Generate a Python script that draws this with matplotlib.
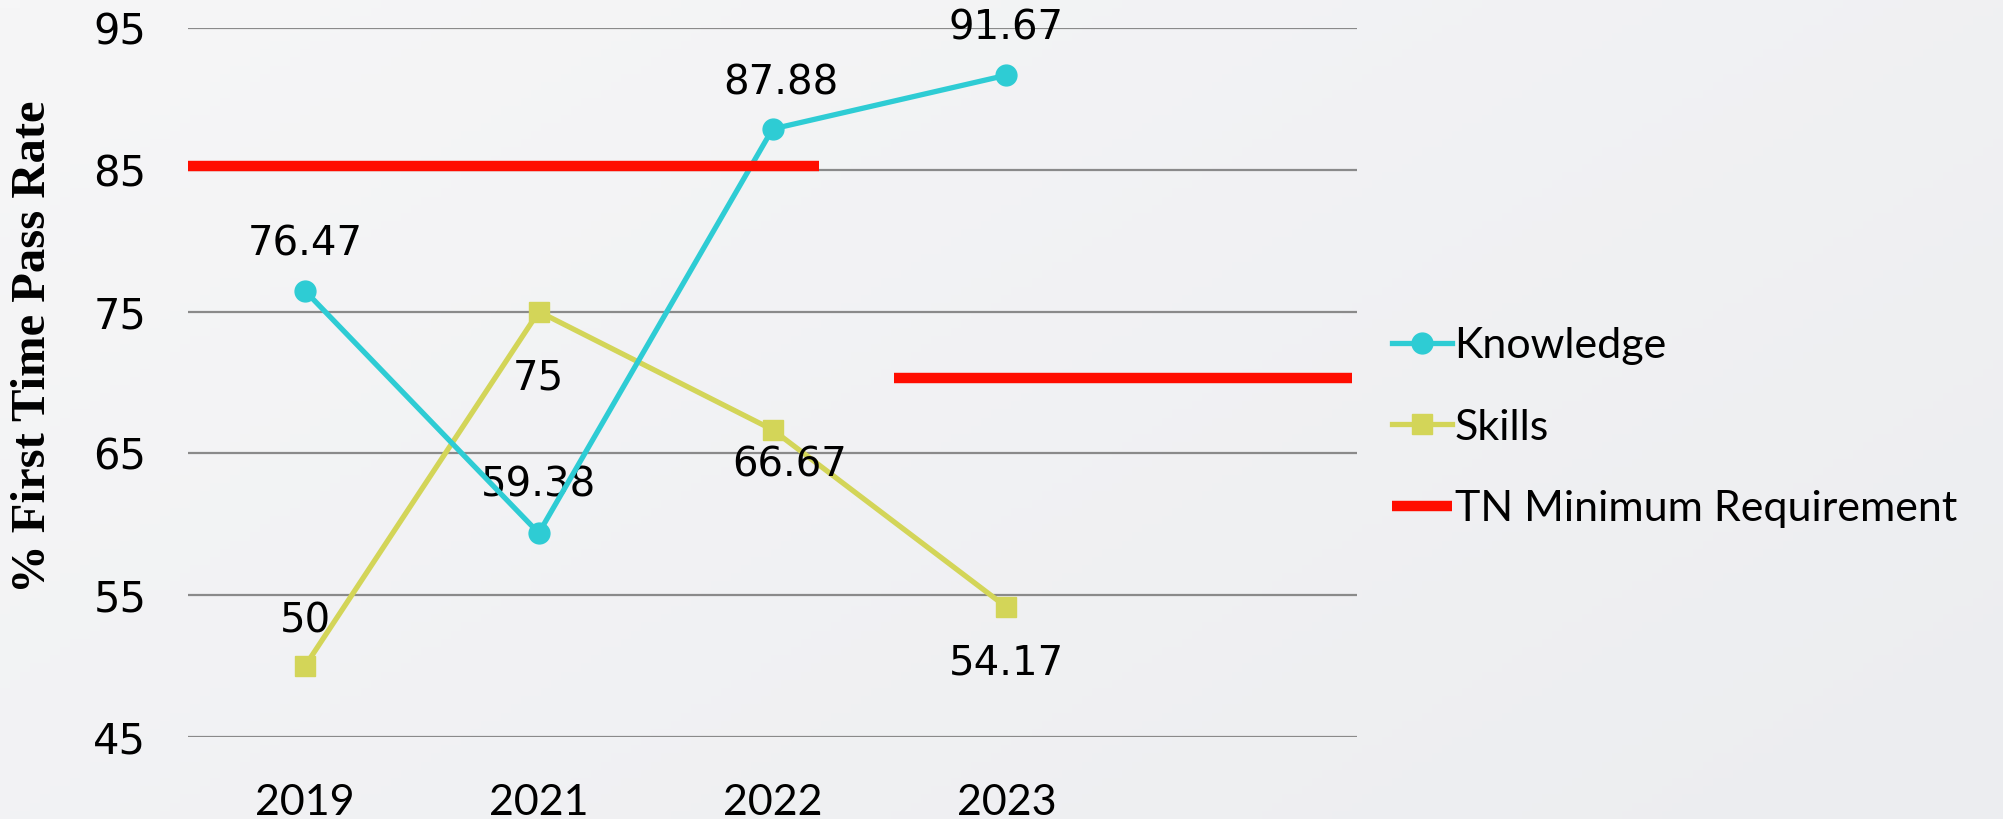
import numpy as np
import matplotlib
matplotlib.use("Agg")
import matplotlib.pyplot as plt
from matplotlib.lines import Line2D

# --------------------
# Data
# --------------------
years = ["2019", "2021", "2022", "2023", ""]
knowledge = [76.47, 59.38, 87.88, 91.67]
skills = [50, 75, 66.67, 54.17]
knowledge_labels = ["76.47", "59.38", "87.88", "91.67"]
skills_labels = ["50", "75", "66.67", "54.17"]

# TN minimum requirement bars (drawn as two separate segments in the original)
tn_min_values = [85.3, 70.3]
tn_min_spans = [(-0.5, 2.2), (2.52, 4.48)]

y_ticks = [45, 55, 65, 75, 85, 95]

# --------------------
# Styles
# --------------------
TEAL = "#2ECCD4"
OLIVE = "#D3D558"
RED = "#FF0D00"
GRID = "#8A8A8A"
NUM_FONT = ["DejaVu Sans"]
CAL_FONT = ["Liberation Sans Narrow", "Lato", "DejaVu Sans"]

fig = plt.figure(figsize=(20.03, 8.19), dpi=100)

# soft grey background gradient
bg = fig.add_axes([0, 0, 1, 1], zorder=-10)
gx, gy = np.meshgrid(np.linspace(0, 1, 200), np.linspace(0, 1, 100))
grad = 0.6 * gx + 0.4 * gy
bg.imshow(grad, cmap=matplotlib.colors.LinearSegmentedColormap.from_list(
    "bg", ["#F6F6F7", "#ECEDF0"]), aspect="auto", extent=[0, 1, 0, 1])
bg.axis("off")

ax = fig.add_axes([0.0939, 0.1001, 0.5836, 0.8657])
ax.patch.set_alpha(0)

x = np.arange(len(years))
xk = x[:len(knowledge)]

ax.plot(xk, knowledge, color=TEAL, lw=3.8, marker="o", markersize=15,
        label="Knowledge", zorder=4)
ax.plot(xk, skills, color=OLIVE, lw=3.8, marker="s", markersize=15,
        label="Skills", zorder=3)

for val, (x0, x1) in zip(tn_min_values, tn_min_spans):
    ax.plot([x0, x1], [val, val], color=RED, lw=7.5, solid_capstyle="butt",
            zorder=5, clip_on=False)

# data labels (offsets in points)
k_off = [(0, 33), (0, 34), (6, 33), (0, 34)]
s_off = [(0, 32), (0, -48), (12, -26), (0, -41)]
for xi, v, lab, off in zip(xk, knowledge, knowledge_labels, k_off):
    ax.annotate(lab, (xi, v), xytext=off, textcoords="offset points",
                ha="center", va="center", fontsize=29, family=NUM_FONT)
for xi, v, lab, off in zip(xk, skills, skills_labels, s_off):
    ax.annotate(lab, (xi, v), xytext=off, textcoords="offset points",
                ha="center", va="center", fontsize=29, family=NUM_FONT)

ax.set_xlim(-0.5, len(years) - 0.5)
ax.set_ylim(45, 95)
ax.set_yticks(y_ticks)
ax.set_xticks(x)
ax.set_xticklabels(years, fontsize=31, family=CAL_FONT)
for t in ax.get_yticklabels():
    t.set_fontsize(30)
    t.set_family(NUM_FONT)
ax.tick_params(axis="both", length=0)
ax.tick_params(axis="x", pad=34)
ax.tick_params(axis="y", pad=30)

ax.yaxis.grid(True, color=GRID, lw=1.6)
ax.set_axisbelow(True)
for s in ax.spines.values():
    s.set_visible(False)

ax.set_ylabel("% First Time Pass Rate", fontsize=35, fontweight="bold",
              family=["Liberation Serif", "DejaVu Serif"])
ax.yaxis.set_label_coords(-0.114, 0.55)

handles = [
    Line2D([], [], color=TEAL, lw=3.8, marker="o", markersize=15),
    Line2D([], [], color=OLIVE, lw=3.8, marker="s", markersize=15),
    Line2D([], [], color=RED, lw=7.5, solid_capstyle="butt"),
]
labels = ["Knowledge", "Skills", "TN Minimum Requirement"]
fig.legend(handles, labels, loc="center left", bbox_to_anchor=(0.695, 0.478),
           frameon=False, handlelength=1.4, handletextpad=0.05,
           labelspacing=1.0, borderpad=0, borderaxespad=0,
           prop={"family": CAL_FONT, "size": 31})

plt.savefig("out.png", dpi=100)
plt.close()
